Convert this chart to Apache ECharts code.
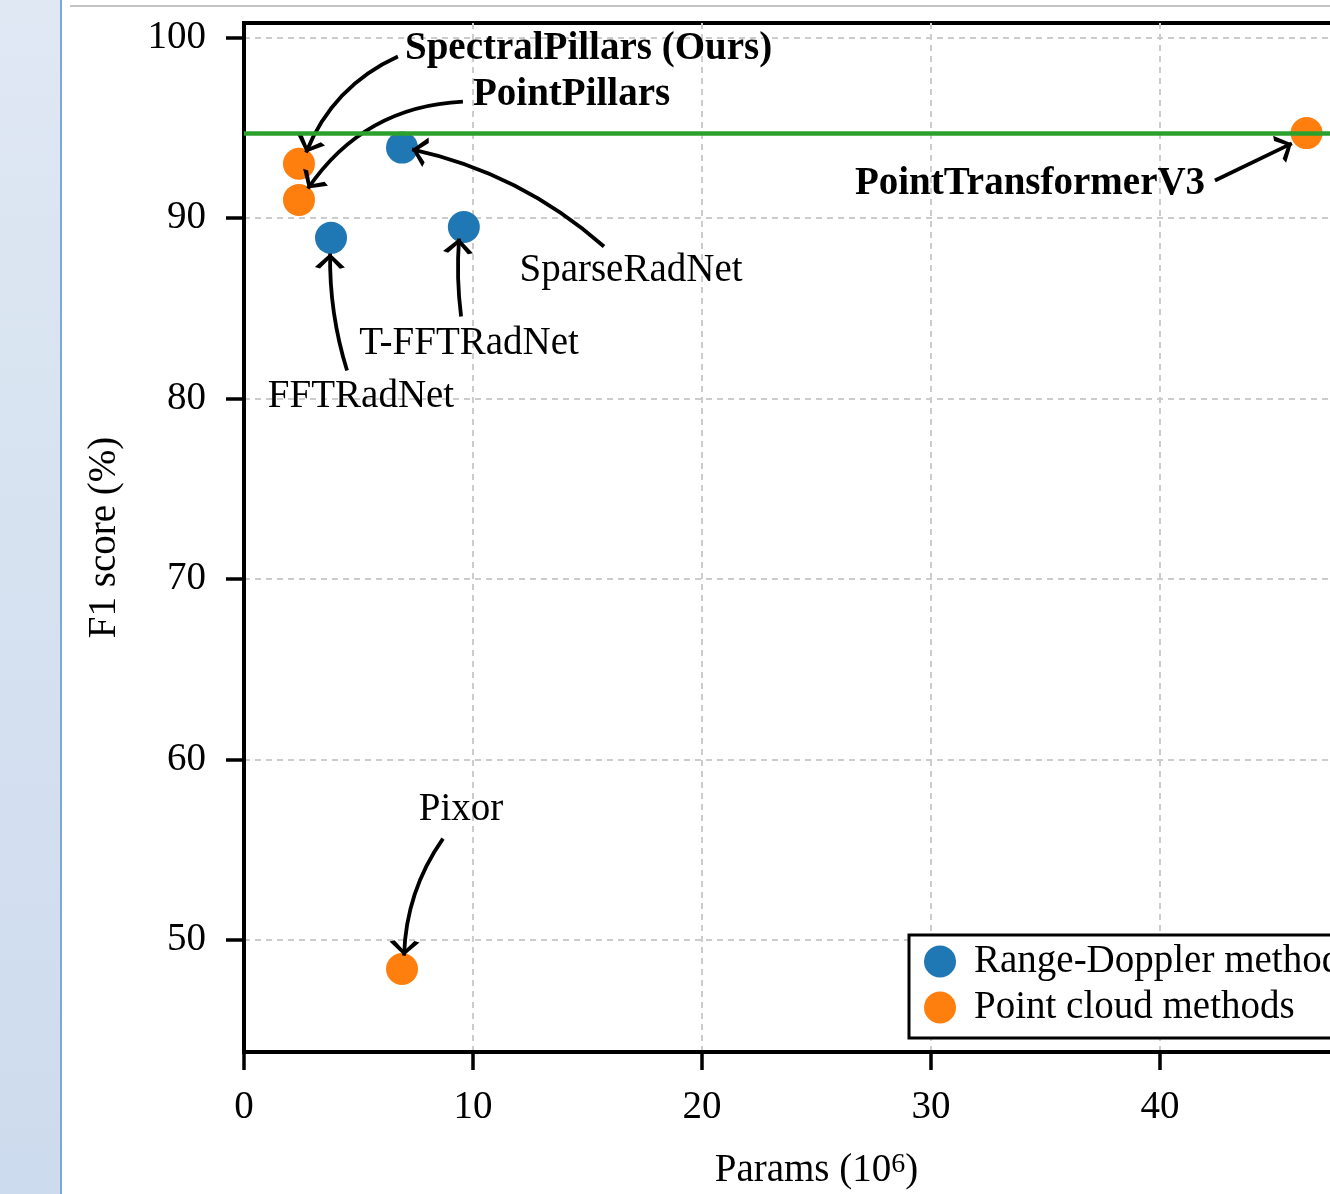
<!DOCTYPE html>
<html>
<head>
<meta charset="utf-8">
<script src="https://cdn.jsdelivr.net/npm/echarts@6/dist/echarts.min.js"></script>
<style>
html, body { margin: 0; padding: 0; width: 1330px; height: 1194px; overflow: hidden; background: #fff; }
#side { position: absolute; left: 0; top: 0; width: 60px; height: 1194px; background: linear-gradient(180deg, #dfe8f3, #cddbee); border-right: 2px solid #7ea6dd; }
#rule { position: absolute; left: 70px; top: 5px; width: 1260px; height: 2px; background: #c4c4c4; }
.frag { position: absolute; top: -68px; font: bold 64px "Liberation Serif"; line-height: 64px; color: #000; }
#chart { position: absolute; left: 0; top: 0; width: 1410px; height: 1194px; }
</style>
</head>
<body>
<div id="side"></div>
<span class="frag" style="left:527px">p</span>
<span class="frag" style="left:783px">g</span>
<div id="rule"></div>
<div id="chart"></div>
<script>
var myChart = echarts.init(document.getElementById('chart'));

// Range-Doppler methods
var rdNames = ['FFTRadNet', 'T-FFTRadNet', 'SparseRadNet'];
var rdParams = [3.8, 9.6, 6.9];
var rdF1 = [88.9, 89.5, 93.9];

// Point cloud methods
var pcNames = ['SpectralPillars (Ours)', 'PointPillars', 'Pixor', 'PointTransformerV3'];
var pcParams = [2.4, 2.4, 6.9, 46.4];
var pcF1 = [93.0, 91.0, 48.4, 94.7];

var xTicks = [0, 10, 20, 30, 40, 50];
var yTicks = [50, 60, 70, 80, 90, 100];

// annotation text anchors, arrow tail -> arrow tip (data units), bend
var notes = [
    {text: 'SpectralPillars (Ours)', at: [7.03, 99.35], align: 'left', bold: true, from: [6.72, 98.95], to: [2.71, 93.63], bend: -0.2},
    {text: 'PointPillars', at: [10.0, 96.8], align: 'left', bold: true, from: [9.56, 96.45], to: [2.79, 91.63], bend: -0.25},
    {text: 'SparseRadNet', at: [16.9, 87.1], align: 'center', bold: false, from: [15.72, 88.42], to: [7.34, 93.8], bend: -0.13},
    {text: 'T-FFTRadNet', at: [9.83, 83.06], align: 'center', bold: false, from: [9.48, 84.54], to: [9.39, 88.86], bend: 0.05},
    {text: 'FFTRadNet', at: [5.11, 80.07], align: 'center', bold: false, from: [4.5, 81.55], to: [3.76, 88.03], bend: 0.08},
    {text: 'Pixor', at: [9.48, 57.24], align: 'center', bold: false, from: [8.69, 55.62], to: [6.99, 49.14], bend: -0.15},
    {text: 'PointTransformerV3', at: [41.97, 91.87], align: 'right', bold: true, from: [42.4, 92.08], to: [45.76, 94.13], bend: 0}
];

var serif = '"Liberation Serif", "DejaVu Serif", serif';
// open arrow head, tip sits at the centre of the box
var chevron = 'path://M5,-11L5.01,-11L5,-11Z M0,10L5,0L10,10L8.3,11L5,3.6L1.7,11Z';

function zip(xs, ys) {
    return xs.map(function (x, i) { return [x, ys[i]]; });
}

option = {
    animation: false,
    grid: {
        left: 244, right: 21, top: 23, bottom: 142,
        show: true, borderColor: '#000', borderWidth: 4,
        outerBoundsMode: 'none'
    },
    legend: {
        orient: 'vertical',
        left: 909, top: 935,
        data: ['Range-Doppler methods', 'Point cloud methods'],
        icon: 'circle',
        itemWidth: 32, itemHeight: 32, itemGap: 7,
        padding: [7, 20, 11, 15],
        backgroundColor: '#fff',
        borderColor: '#000', borderWidth: 3, borderRadius: 0,
        textStyle: {fontFamily: serif, fontSize: 39, color: '#000', padding: [0, 0, 0, 13]}
    },
    xAxis: {
        type: 'value', min: 0, max: 50, interval: 10,
        name: 'Params (10{sup|6})',
        nameLocation: 'middle', nameGap: 99,
        nameTextStyle: {
            fontFamily: serif, fontSize: 39, color: '#000',
            rich: {sup: {fontFamily: serif, fontSize: 28, color: '#000', verticalAlign: 'top', padding: [0, 0, 10, 0]}}
        },
        axisLine: {lineStyle: {color: '#000', width: 4}},
        axisTick: {length: 18, lineStyle: {color: '#000', width: 3.5}},
        axisLabel: {fontFamily: serif, fontSize: 39, color: '#000', margin: 36},
        splitLine: {show: true, lineStyle: {color: '#cccccc', width: 2, type: [6, 5]}}
    },
    yAxis: {
        type: 'value', min: 43.8, max: 100.8,
        name: 'F1 score (%)',
        nameLocation: 'middle', nameGap: 120, nameRotate: 90,
        nameTextStyle: {fontFamily: serif, fontSize: 39, color: '#000'},
        axisLine: {lineStyle: {color: '#000', width: 4}},
        axisTick: {customValues: yTicks, length: 18, lineStyle: {color: '#000', width: 3.5}},
        axisLabel: {customValues: yTicks, fontFamily: serif, fontSize: 39, color: '#000', margin: 38},
        splitLine: {show: true, lineStyle: {color: '#cccccc', width: 2, type: [6, 5]}}
    },
    series: [
        {
            name: 'best',
            type: 'scatter',
            data: [],
            z: 1,
            markLine: {
                silent: true,
                symbol: 'none',
                label: {show: false},
                lineStyle: {color: '#2ca02c', width: 4.5, type: 'solid'},
                data: [{yAxis: pcF1[3]}]
            }
        },
        {
            name: 'arrows',
            type: 'lines',
            coordinateSystem: 'cartesian2d',
            z: 4,
            symbol: ['none', chevron],
            symbolSize: [19, 30],
            lineStyle: {color: '#000', width: 3.8, opacity: 1},
            data: notes.map(function (n) {
                return {coords: [n.from, n.to], lineStyle: {curveness: n.bend}};
            })
        },
        {
            name: 'Range-Doppler methods',
            type: 'scatter',
            z: 3,
            symbolSize: 32,
            itemStyle: {color: '#1f77b4', opacity: 1},
            data: zip(rdParams, rdF1)
        },
        {
            name: 'Point cloud methods',
            type: 'scatter',
            z: 3,
            symbolSize: 32,
            itemStyle: {color: '#ff7f0e', opacity: 1},
            data: zip(pcParams, pcF1)
        },
        {
            name: 'notes',
            type: 'scatter',
            z: 5,
            symbolSize: 0,
            silent: true,
            itemStyle: {opacity: 1},
            data: notes.map(function (n) {
                return {
                    value: n.at,
                    label: {
                        show: true, position: 'inside',
                        formatter: n.text,
                        align: n.align, verticalAlign: 'middle',
                        fontFamily: serif, fontSize: 39, color: '#000',
                        fontWeight: n.bold ? 'bold' : 'normal'
                    }
                };
            })
        }
    ]
};
myChart.setOption(option);
</script>
</body>
</html>
